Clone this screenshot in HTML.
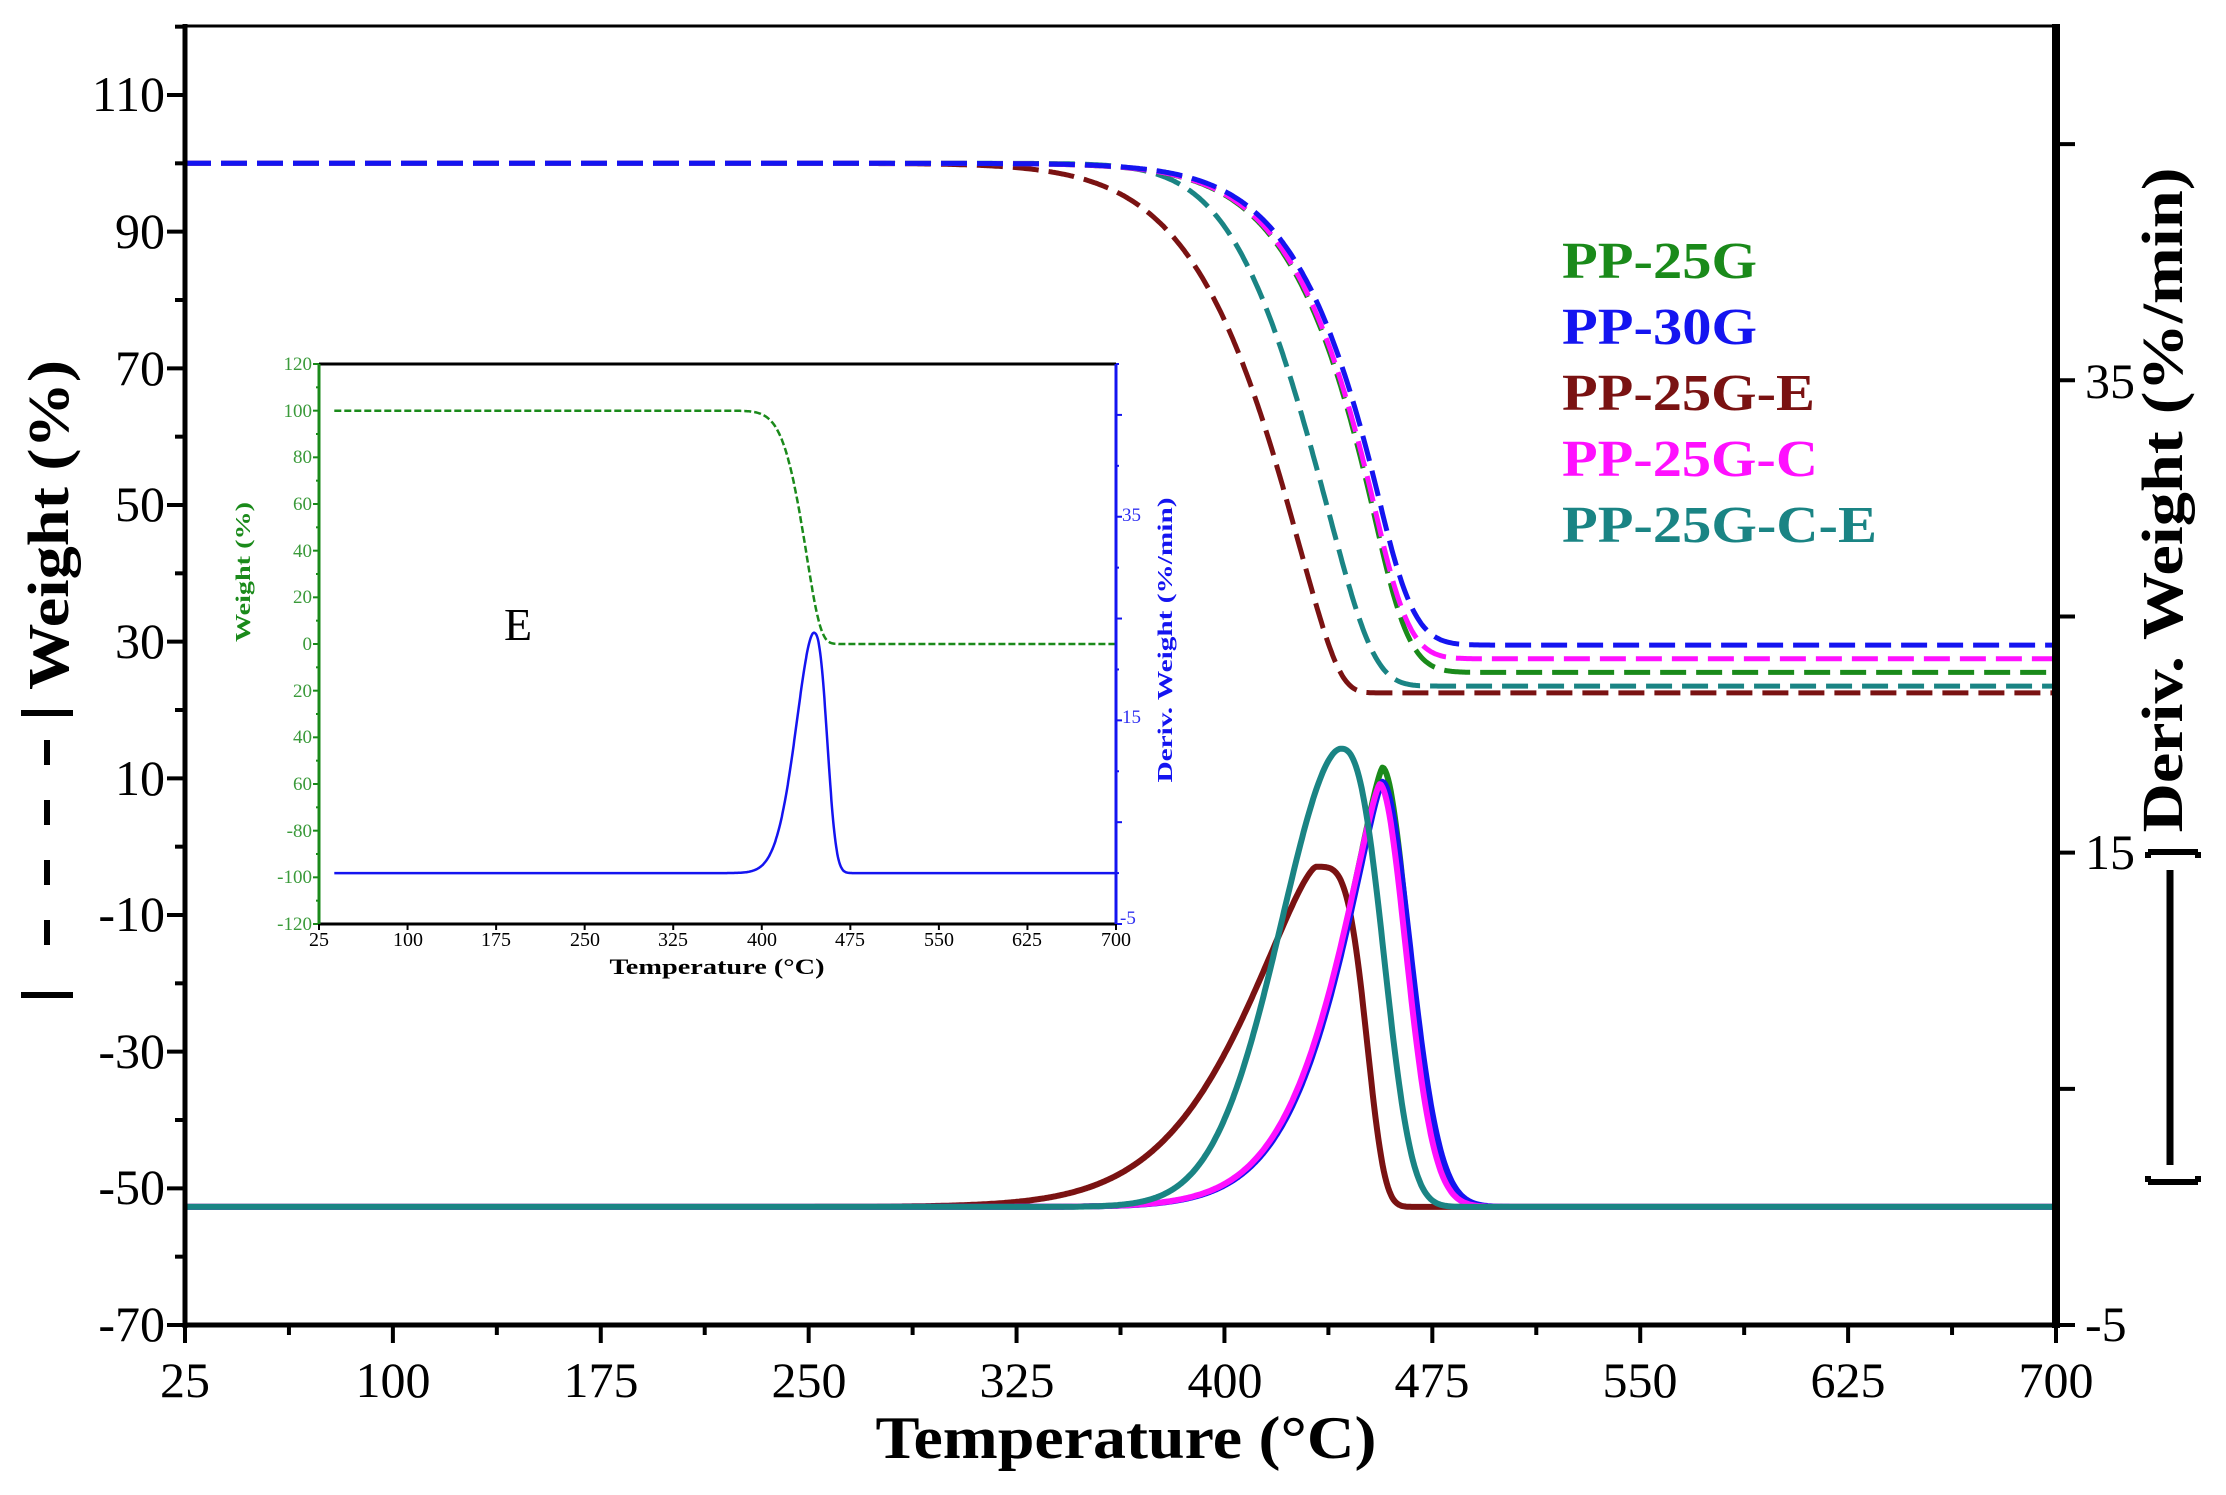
<!DOCTYPE html>
<html><head><meta charset="utf-8"><style>
html,body{margin:0;padding:0;background:#fff;}
svg{display:block;}
text{font-family:"Liberation Serif",serif;}
</style></head><body>
<svg id="s" width="2226" height="1495" viewBox="0 0 2226 1495" xmlns="http://www.w3.org/2000/svg">
<rect width="2226" height="1495" fill="#fff"/>
<g id="curves"></g>
<!-- main axes -->
<line x1="185" y1="26" x2="2056" y2="26" stroke="#000" stroke-width="3"/>
<line x1="185" y1="24" x2="185" y2="1328" stroke="#000" stroke-width="5"/>
<line x1="183" y1="1325" x2="2058" y2="1325" stroke="#000" stroke-width="5"/>
<line x1="2056" y1="24" x2="2056" y2="1328" stroke="#000" stroke-width="8"/>
<g id="ticks" stroke="#000" stroke-width="4"></g>
<g font-size="50" text-anchor="end" fill="#000">
<text x="165" y="111">110</text><text x="165" y="248">90</text><text x="165" y="385">70</text>
<text x="165" y="521">50</text><text x="165" y="658">30</text><text x="165" y="795">10</text>
<text x="165" y="931">-10</text><text x="165" y="1068">-30</text><text x="165" y="1204">-50</text>
<text x="165" y="1341">-70</text>
</g>
<g font-size="50" text-anchor="middle" fill="#000">
<text x="185" y="1397">25</text><text x="393" y="1397">100</text><text x="601" y="1397">175</text>
<text x="809" y="1397">250</text><text x="1017" y="1397">325</text><text x="1225" y="1397">400</text>
<text x="1432" y="1397">475</text><text x="1640" y="1397">550</text><text x="1848" y="1397">625</text>
<text x="2056" y="1397">700</text>
</g>
<g font-size="50" fill="#000">
<text x="2085" y="398">35</text><text x="2085" y="869">15</text><text x="2085" y="1341">-5</text>
</g>
<text x="1126" y="1458" font-size="60" font-weight="bold" text-anchor="middle" textLength="501" lengthAdjust="spacingAndGlyphs">Temperature (°C)</text>
<!-- left title -->
<text transform="translate(68,525) rotate(-90)" font-size="58" font-weight="bold" text-anchor="middle" textLength="330" lengthAdjust="spacingAndGlyphs">Weight (%)</text>
<g stroke="#000" stroke-width="6" fill="none">
<path d="M24,710 L24,716 M24,713 L70,713 M70,710 L70,716"/>
<path d="M24,992 L24,998 M24,995 L70,995 M70,992 L70,998"/>
<line x1="47" y1="740" x2="47" y2="765"/><line x1="47" y1="800" x2="47" y2="825"/>
<line x1="47" y1="860" x2="47" y2="885"/><line x1="47" y1="920" x2="47" y2="945"/>
</g>
<!-- right title -->
<text transform="translate(2182,500) rotate(-90)" font-size="58" font-weight="bold" text-anchor="middle" textLength="665" lengthAdjust="spacingAndGlyphs">Deriv. Weight (%/min)</text>
<g stroke="#000" stroke-width="6" fill="none">
<path d="M2148,852 L2198,852 M2148,852 L2148,858 M2198,852 L2198,858"/>
<path d="M2148,1182 L2198,1182 M2148,1182 L2148,1176 M2198,1182 L2198,1176"/>
<line x1="2170" y1="870" x2="2170" y2="1165" stroke-width="7"/>
</g>
<!-- legend -->
<g font-size="52" font-weight="bold">
<text x="1562" y="278" fill="#1a8a1a" textLength="195" lengthAdjust="spacingAndGlyphs">PP-25G</text>
<text x="1562" y="344" fill="#1414f0" textLength="195" lengthAdjust="spacingAndGlyphs">PP-30G</text>
<text x="1562" y="410" fill="#7a1212" textLength="253" lengthAdjust="spacingAndGlyphs">PP-25G-E</text>
<text x="1562" y="476" fill="#ff10ff" textLength="256" lengthAdjust="spacingAndGlyphs">PP-25G-C</text>
<text x="1562" y="542" fill="#1a8484" textLength="315" lengthAdjust="spacingAndGlyphs">PP-25G-C-E</text>
</g>
<!-- inset -->
<rect x="319" y="364" width="797" height="560" fill="#fff"/>
<g id="inset"></g>
<line x1="319" y1="364" x2="1116" y2="364" stroke="#000" stroke-width="3"/>
<line x1="319" y1="924" x2="1116" y2="924" stroke="#000" stroke-width="3"/>
<line x1="319" y1="364" x2="319" y2="924" stroke="#1a8a1a" stroke-width="3"/>
<line x1="1116" y1="364" x2="1116" y2="924" stroke="#1414f0" stroke-width="3"/>
<g id="iticks"></g>
<g font-size="19" text-anchor="end" fill="#3a9a3a">
<text x="312" y="370">120</text><text x="312" y="417">100</text><text x="312" y="463">80</text>
<text x="312" y="510">60</text><text x="312" y="557">40</text><text x="312" y="603">20</text>
<text x="312" y="650">0</text><text x="312" y="697">20</text><text x="312" y="743">40</text>
<text x="312" y="790">60</text><text x="312" y="837">-80</text><text x="312" y="883">-100</text>
<text x="312" y="930">-120</text>
</g>
<g font-size="19" fill="#3030f0">
<text x="1122" y="521">35</text><text x="1122" y="723">15</text><text x="1120" y="924">-5</text>
</g>
<g font-size="20" text-anchor="middle" fill="#000">
<text x="319" y="946">25</text><text x="408" y="946">100</text><text x="496" y="946">175</text>
<text x="585" y="946">250</text><text x="673" y="946">325</text><text x="762" y="946">400</text>
<text x="850" y="946">475</text><text x="939" y="946">550</text><text x="1027" y="946">625</text>
<text x="1116" y="946">700</text>
</g>
<text x="717" y="974" font-size="22" font-weight="bold" text-anchor="middle" textLength="215" lengthAdjust="spacingAndGlyphs">Temperature (°C)</text>
<text transform="translate(250,572) rotate(-90)" font-size="21" font-weight="bold" text-anchor="middle" fill="#1a8a1a" textLength="140" lengthAdjust="spacingAndGlyphs">Weight (%)</text>
<text transform="translate(1172,640) rotate(-90)" font-size="21" font-weight="bold" text-anchor="middle" fill="#1414f0" textLength="285" lengthAdjust="spacingAndGlyphs">Deriv. Weight (%/min)</text>
<text x="518" y="640" font-size="46" text-anchor="middle">E</text>
</svg>
<script>
var NS="http://www.w3.org/2000/svg";
function el(p,t,a){var e=document.createElementNS(NS,t);for(var k in a)e.setAttribute(k,a[k]);p.appendChild(e);return e;}
var X=function(T){return 185+(T-25)*(1871/675);};
var YL=function(v){return 1325-(v+70)*(1230/180);};
var YR=function(v){return 1325-(v+5)*(1299/55);};
var tk=document.getElementById('ticks');
for(var v=-70;v<=120;v+=10){var L=((v+70)%20==0)?18:10;el(tk,'line',{x1:185-L,y1:YL(v),x2:185,y2:YL(v)});}
for(var T=25;T<=700;T+=37.5){var L=((T-25)%75==0)?18:10;el(tk,'line',{x1:X(T),y1:1325,x2:X(T),y2:1325+L});}
for(var v=-5;v<=45;v+=10){el(tk,'line',{x1:2056,y1:YR(v),x2:2075,y2:YR(v)});}
function dtg(T,p){var d=T-p.pk;if(d<0)return p.h*Math.exp(-Math.pow(-d/p.a,p.pl));return p.h*Math.exp(-Math.pow(d/p.b,p.pr));}
var S=[
{c:'#7a1212',pk:433,h:14.4,a:38.7,pl:1.4,b:20,pr:4,end:22.5,sh:-9,wa:1},
{c:'#1a8a1a',pk:457,h:18.6,a:24.6,pl:1.3,b:13.7,pr:1.9,end:25.5,sh:-2,wa:1.3},
{c:'#1414f0',pk:457,h:18.0,a:24.6,pl:1.3,b:14.5,pr:1.9,end:29.5,sh:-1,wa:1.3},
{c:'#ff10ff',pk:456,h:17.9,a:24.6,pl:1.3,b:13.7,pr:1.9,end:27.5,sh:-1,wa:1.3},
{c:'#1a8484',pk:442,h:19.4,a:32,pl:1.85,b:18.9,pr:2.6,end:23.5,sh:-4,wa:1.2}];
var g=document.getElementById('curves');
S.forEach(function(p){
 var pw={pk:p.pk,h:p.h,a:p.a*p.wa,pl:p.pl,b:p.b,pr:p.pr};
 var tot=0,cum=[],ts=[];for(var T=25;T<=700;T+=0.5){tot+=dtg(T,pw);cum.push(tot);ts.push(T);}
 var d='',dw='';
 for(var i=0;i<ts.length;i++){var T=ts[i];
  d+=(i?'L':'M')+X(T).toFixed(1)+','+YR(dtg(T,p)).toFixed(1);
 }
 for(var i=0;i<ts.length;i++){var T=ts[i];var j=Math.round((T-p.sh-25)/0.5);j=Math.max(0,Math.min(ts.length-1,j));
  var w=100-(100-p.end)*cum[j]/tot; dw+=(i?'L':'M')+X(T).toFixed(1)+','+YL(w).toFixed(1);}
 p.d=d;p.dw=dw;
});
[S[0],S[4],S[1],S[3],S[2]].forEach(function(p){el(g,'path',{d:p.dw,fill:'none',stroke:p.c,'stroke-width':5,'stroke-dasharray':'26,10'});});
[S[0],S[1],S[2],S[3],S[4]].forEach(function(p){el(g,'path',{d:p.d,fill:'none',stroke:p.c,'stroke-width':6,'stroke-linejoin':'round'});});
// inset
var IX=function(T){return 319+(T-25)*(797/675);};
var IYL=function(v){return 924-(v+120)*(560/240);};
var IYR=function(v){return 924-(v+5)*(560/55);};
var ig=document.getElementById('inset');
var q={pk:444,h:23.6,a:22,pl:1.8,b:14,pr:2.6};
var tot=0,cum=[],ts=[];for(var T=38;T<=700;T+=0.5){tot+=dtg(T,q);cum.push(tot);ts.push(T);}
var d='',dw='';
for(var i=0;i<ts.length;i++){var T=ts[i];d+=(i?'L':'M')+IX(T).toFixed(1)+','+IYR(dtg(T,q)).toFixed(1);
 var j=Math.max(0,Math.min(ts.length-1,Math.round((T+6-38)/0.5)));
 dw+=(i?'L':'M')+IX(T).toFixed(1)+','+IYL(100-100*cum[j]/tot).toFixed(1);}
el(ig,'path',{d:dw,fill:'none',stroke:'#1a8a1a','stroke-width':2.5,'stroke-dasharray':'7,3'});
el(ig,'path',{d:d,fill:'none',stroke:'#1414f0','stroke-width':2.5});
var it=document.getElementById('iticks');
for(var v=-120;v<=120;v+=10){var L=(v%20==0)?6:3;el(it,'line',{x1:319-L,y1:IYL(v),x2:319,y2:IYL(v),stroke:'#1a8a1a','stroke-width':2});}
for(var v=-5;v<=50;v+=5){var L=((v+5)%10==0)?6:3;el(it,'line',{x1:1116,y1:IYR(v),x2:1116+L,y2:IYR(v),stroke:'#1414f0','stroke-width':2});}
for(var T=25;T<=700;T+=75){el(it,'line',{x1:IX(T),y1:924,x2:IX(T),y2:930,stroke:'#000','stroke-width':2});}
</script>
</body></html>
